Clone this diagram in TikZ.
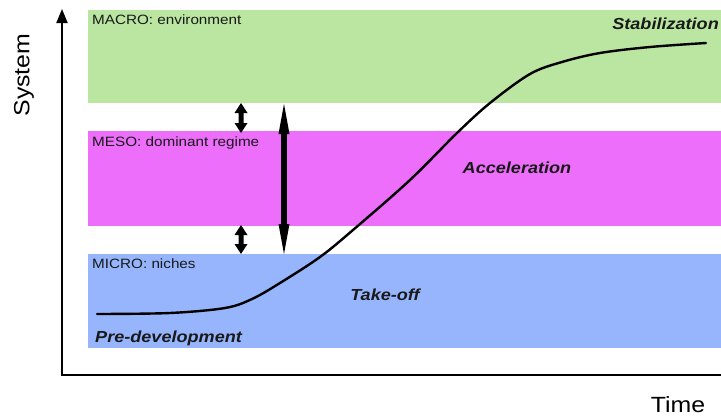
\documentclass[tikz,border=0pt]{standalone}
\usepackage{fontspec}
\setmainfont{Liberation Sans}[FakeStretch=1.13]
\usetikzlibrary{arrows.meta,calc}
\definecolor{macroc}{RGB}{186,230,162}
\definecolor{mesoc}{RGB}{236,110,250}
\definecolor{microc}{RGB}{150,181,253}
\tikzset{
  band/.style={draw=none, inner sep=0pt, outer sep=0pt, anchor=north west},
  lvl/.style={font=\fontsize{13.5}{16}\selectfont, text=black!90, inner sep=0pt, anchor=base west},
  phase/.style={font=\fontsize{16}{19}\selectfont\bfseries\itshape, inner sep=0pt, text=black!90},
  axlab/.style={font=\fontsize{22}{26}\selectfont, inner sep=0pt},
  axis/.style={line width=2pt},
  arrfill/.style={fill=black, draw=none},
  scurve/.style={line width=2.4pt, line cap=round}
}
% vertical double arrow from top point #1 to bottom point #2
% #3 half head width, #4 head length, #5 half shaft width
\newcommand\vdblarrow[5]{%
  \fill[arrfill] (#1) -- ($(#1)+(#3,#4)$) -- ($(#1)+(#5,#4)$)
    -- ($(#2)+(#5,-#4)$) -- ($(#2)+(#3,-#4)$) -- (#2)
    -- ($(#2)+(-#3,-#4)$) -- ($(#2)+(-#5,-#4)$)
    -- ($(#1)+(-#5,#4)$) -- ($(#1)+(-#3,#4)$) -- cycle;}
\begin{document}
\begin{tikzpicture}[x=1pt,y=-1pt]
\useasboundingbox (0,0) rectangle (721,418);
% bands
\node[band, fill=macroc, minimum width=633pt, minimum height=93pt] (macro) at (88,10) {};
\node[band, fill=mesoc, minimum width=633pt, minimum height=95pt] (meso) at (88,131) {};
\node[band, fill=microc, minimum width=633pt, minimum height=94pt] (micro) at (88,254) {};
% axes
\coordinate (origin) at (62,375);
\coordinate (ytop) at (62,9);
\coordinate (xend) at (721,375);
\draw[axis, -{Triangle[length=14pt,width=11pt]}] (origin) -- (ytop);
\draw[axis] ([xshift=-1pt]origin) -- (xend);
% level labels
\node[lvl] (lmacro) at (92,24) {MACRO: environment};
\node[lvl] (lmeso) at (92,146) {MESO: dominant regime};
\node[lvl] (lmicro) at (92,268) {MICRO: niches};
% phase labels
\node[phase, anchor=east] (stab) at (719,24) {Stabilization};
\node[phase] (acc) at (517,168) {Acceleration};
\node[phase] (take) at (385,295) {Take-off};
\node[phase, anchor=west] (pre) at (95,338) {Pre-development};
% axis labels
\node[axlab, rotate=90] (sys) at (24,75) {System};
\node[axlab] (time) at (678,405) {Time};
% arrows
\coordinate (a1) at (241,103);
\coordinate (a2) at (241,133);
\coordinate (a3) at (241,225);
\coordinate (a4) at (241,254);
\vdblarrow{a1}{a2}{6.5}{10}{2.5}
\vdblarrow{a3}{a4}{6.5}{10}{2.5}
\coordinate (b1) at (284,104);
\coordinate (b2) at (284,254);
\vdblarrow{b1}{b2}{5.5}{30}{2.8}
% S-curve
\draw[scurve] plot[smooth, tension=0.55] coordinates {
 (97,314) (170,313) (225,308) (252,299) (280,283) (320,257) (353,230)
 (410,180) (457,133) (490,103) (530,74) (562,62) (600,53) (650,47) (706,43)};
\end{tikzpicture}
\end{document}
